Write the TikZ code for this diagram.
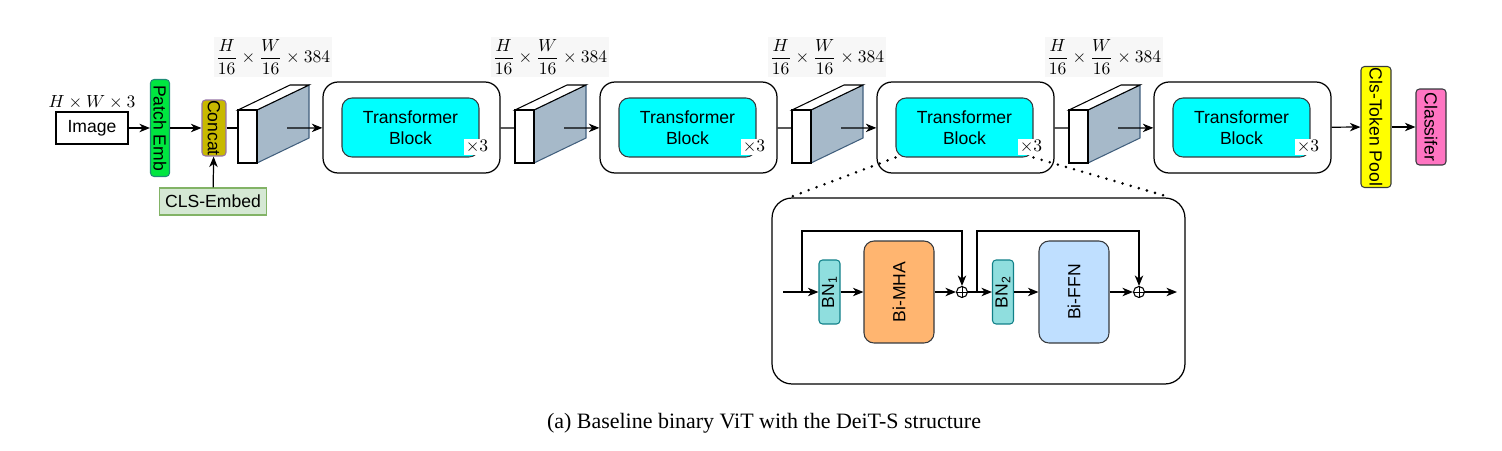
\documentclass[tikz,border=0pt]{standalone}
\usepackage{amsmath}
\usepackage{fontspec}
\setmainfont{Liberation Sans}
\newfontfamily\capfont{Liberation Serif}
\usetikzlibrary{arrows.meta,positioning}
\definecolor{patchgreen}{RGB}{0,230,64}
\definecolor{patchedge}{RGB}{30,140,120}
\definecolor{concatfill}{RGB}{200,185,0}
\definecolor{concatedge}{RGB}{150,115,166}
\definecolor{clsfill}{RGB}{213,232,212}
\definecolor{clsedge}{RGB}{130,179,102}
\definecolor{cubeside}{RGB}{166,185,201}
\definecolor{cubeedge}{RGB}{65,95,125}
\definecolor{tbcyan}{RGB}{0,255,255}
\definecolor{poolyellow}{RGB}{255,255,0}
\definecolor{classpink}{RGB}{255,117,194}
\definecolor{bnfill}{RGB}{143,222,222}
\definecolor{bnedge}{RGB}{16,128,136}
\definecolor{mhafill}{RGB}{255,181,112}
\definecolor{ffnfill}{RGB}{191,223,255}
\definecolor{edgegray}{RGB}{54,57,61}

\begin{document}
\begin{tikzpicture}[
			x=0.02cm, y=-0.02cm,
			box/.style={draw=edgegray, line width=0.6pt, rounded corners=2pt, align=center, inner sep=0pt},
			vbox/.style={box, rotate=-90, minimum height=0.6cm},
			upbox/.style={box, rotate=90},
			outer/.style={draw, line width=0.7pt, rounded corners=0.3cm, minimum width=3.54cm, minimum height=1.82cm},
			inner/.style={box, fill=tbcyan, rounded corners=0.2cm, minimum width=2.74cm, minimum height=1.18cm},
			times/.style={fill=white, inner sep=1pt},
			dimlabel/.style={fill=black!3, inner sep=1pt},
			cubefront/.style={draw, line width=0.6pt, fill=white},
			cubeback/.style={draw=cubeedge, line width=0.6pt, fill=cubeside},
			oplus/.style={circle, draw, line width=0.6pt, inner sep=0pt, minimum size=0.22cm,
				path picture={\draw[line width=0.5pt] (path picture bounding box.north) -- (path picture bounding box.south)
					(path picture bounding box.west) -- (path picture bounding box.east);}},
			arrow/.style={-{Stealth[length=6pt, width=4.8pt, inset=1.8pt]}, line width=0.7pt},
			plain/.style={line width=0.7pt},
			dots/.style={line width=1.6pt, line cap=round, dash pattern=on 0pt off 4.8pt}
		]
		\useasboundingbox (0,0) rectangle (1502,450);

		% input side
		\node[draw, line width=0.6pt, minimum width=1.44cm, minimum height=0.64cm] (img) at (92,128) {Image};
		\node (imgsize) at (92,102) {$H \times W \times 3$};
		\node[vbox, draw=patchedge, fill=patchgreen, minimum width=1.94cm, minimum height=0.38cm] (pe) at (160,128) {Patch Emb};
		\node[vbox, draw=concatedge, fill=concatfill, minimum width=1.12cm, minimum height=0.48cm] (cc) at (214,128) {Concat};
		\node[draw=clsedge, fill=clsfill, line width=0.6pt, minimum width=1.96cm, minimum height=0.54cm] (cls) at (213,201.5) {CLS-Embed};

		\draw[arrow] (img) -- (pe);
		\draw[arrow] (pe) -- (cc);
		\draw[arrow] (cls) -- (cc);

		% four stages
		\foreach \i in {1,...,4} {
			\pgfmathsetmacro\x{238+277*(\i-1)}
			\draw[cubeback] (\x+19,110) -- ++(52,-25) -- ++(0,53) -- ++(-52,25) -- cycle;
			\draw[cubefront] (\x,110) -- ++(52,-25) -- ++(19,0) -- ++(-52,25) -- cycle;
			\draw[cubefront] (\x,110) rectangle ++(19,53);
			\coordinate (f\i) at (\x,128);
			\coordinate (c\i) at (\x+49,128);
			\node[dimlabel] (dim\i) at (\x+35,57) {$\displaystyle\frac{H}{16}\times\frac{W}{16}\times 384$};
			\node[outer] (blk\i) at (\x+173.5,127.5) {};
			\node[inner] (tb\i) at (\x+172.5,127.5) {Transformer\\Block};
			\node[times] (rep\i) at (\x+239,147) {$\times3$};
			\draw[arrow] (c\i) -- (blk\i);
		}
		\draw[plain] (cc) -- (f1);
		\foreach \i/\j in {1/2,2/3,3/4}
			\draw[plain] (blk\i) -- (f\j);

		% output side
		\node[vbox, fill=poolyellow, minimum width=2.42cm] (pool) at (1376,127) {Cls-Token Pool};
		\node[vbox, fill=classpink, minimum width=1.52cm] (clf) at (1431,127) {Classifer};
		\draw[arrow] (blk4) -- (pool);
		\draw[arrow] (pool) -- (clf);

		% zoomed transformer block
		\node[draw, line width=0.7pt, rounded corners=0.4cm, minimum width=8.26cm, minimum height=3.72cm] (detail) at (978.5,291) {};
		\draw[dots] (tb3.south west) -- ([xshift=0.36cm]detail.north west);
		\draw[dots] (tb3.south east) -- ([xshift=-0.3cm]detail.north east);

		\coordinate (din) at (783,292);
		\coordinate (s1) at (802,292);
		\node[upbox, draw=bnedge, fill=bnfill, minimum width=1.28cm, minimum height=0.42cm] (bn1) at (829.5,292) {BN\textsubscript{1}};
		\node[upbox, fill=mhafill, rounded corners=0.2cm, minimum width=2.04cm, minimum height=1.4cm] (mha) at (899,292) {Bi-MHA};
		\node[oplus] (op1) at (962,292) {};
		\coordinate (s2) at (977,292);
		\node[upbox, draw=bnedge, fill=bnfill, minimum width=1.28cm, minimum height=0.42cm] (bn2) at (1003,292) {BN\textsubscript{2}};
		\node[upbox, fill=ffnfill, rounded corners=0.2cm, minimum width=2.04cm, minimum height=1.4cm] (ffn) at (1074,292) {Bi-FFN};
		\node[oplus] (op2) at (1139,292) {};
		\coordinate (dout) at (1177,292);

		\draw[arrow] (din) -- (bn1);
		\draw[arrow] (bn1) -- (mha);
		\draw[arrow] (mha) -- (op1);
		\draw[arrow] (op1) -- (bn2);
		\draw[arrow] (bn2) -- (ffn);
		\draw[arrow] (ffn) -- (op2);
		\draw[arrow] (op2) -- (dout);
		\draw[arrow] (s1) -- ++(0,-61) -| (op1);
		\draw[arrow] (s2) -- ++(0,-61) -| (op2);

		% caption
		\node (cap) at (764,423) {\capfont\fontsize{12.5}{15}\selectfont (a) Baseline binary ViT with the DeiT-S structure};

	\end{tikzpicture}
\end{document}
